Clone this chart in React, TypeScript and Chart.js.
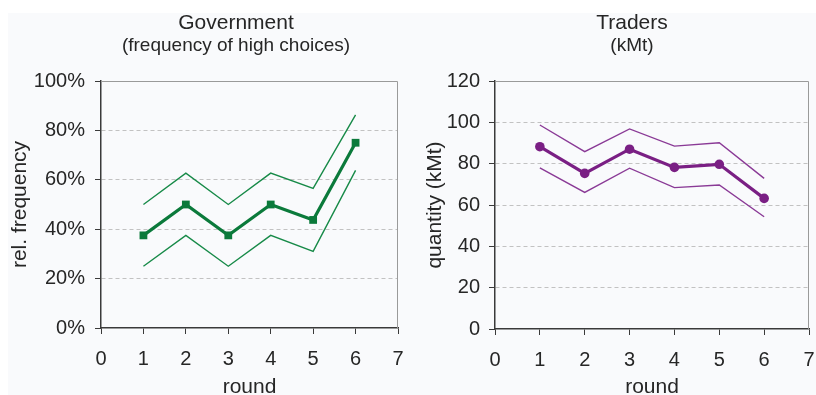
import React, { useEffect, useRef } from 'react';
import { Chart, registerables } from 'chart.js';

Chart.register(...registerables);

// ---------- data ----------
const rounds = [1, 2, 3, 4, 5, 6];

// Government: frequency of high choices (%)
const govMean = [37.5, 50, 37.5, 50, 43.75, 75];
const govUpper = [50, 62.7, 50, 62.7, 56.5, 86.3];
const govLower = [25, 37.5, 25, 37.5, 31, 63.8];

// Traders: quantity (kMt)
const trMean = [88.2, 75.3, 87, 78.2, 79.7, 63.2];
const trUpper = [98.7, 85.8, 96.8, 88.5, 90.1, 72.9];
const trLower = [78, 66.1, 77.8, 68.4, 69.7, 54.3];

const govTitle = ['Government', '(frequency of high choices)'];
const trTitle = ['Traders', '(kMt)'];

const FONT = '"Liberation Sans", Arial, Helvetica, sans-serif';
const TEXT = '#262626';
const AXIS = '#3a3a3a';

const pts = (ys: number[]) => rounds.map((r, i) => ({ x: r, y: ys[i] }));

const headingPlugin = {
  id: 'headings',
  afterDraw(chart: any, _args: any, opts: any) {
    const ctx = chart.ctx;
    const { top, right, left, bottom } = chart.chartArea;
    ctx.save();
    // light frame on top and right
    ctx.strokeStyle = '#9a9a9a';
    ctx.lineWidth = 1;
    ctx.beginPath();
    ctx.moveTo(left, top + 0.5);
    ctx.lineTo(right - 0.5, top + 0.5);
    ctx.lineTo(right - 0.5, bottom);
    ctx.stroke();
    // headings
    ctx.fillStyle = TEXT;
    ctx.textAlign = 'center';
    ctx.textBaseline = 'alphabetic';
    (opts.lines || []).forEach((l: any) => {
      ctx.font = `${l.size}px ${FONT}`;
      ctx.fillText(l.text, opts.x, l.y);
    });
    ctx.restore();
  },
};

interface PanelCfg {
  mean: number[];
  upper: number[];
  lower: number[];
  color: string;
  boundColor: string;
  pointStyle: string;
  pointRadius: number;
  yMax: number;
  yStep: number;
  fmt: (v: number) => string;
  yTitle: string;
  yWidth: number;
  yTitlePad: number;
  yTickPad: number;
  xHeight: number;
  padRight: number;
  headX: number;
  heading: string[];
}

function makeConfig(p: PanelCfg): any {
  const bound = (data: number[]) => ({
    data: pts(data),
    borderColor: p.boundColor,
    borderWidth: 1.4,
    pointRadius: 0,
    fill: false,
    tension: 0,
  });
  return {
    type: 'line',
    data: {
      datasets: [
        bound(p.upper),
        bound(p.lower),
        {
          data: pts(p.mean),
          borderColor: p.color,
          backgroundColor: p.color,
          borderWidth: 3.2,
          pointStyle: p.pointStyle,
          pointRadius: p.pointRadius,
          pointBorderWidth: 0,
          fill: false,
          tension: 0,
        },
      ],
    },
    plugins: [headingPlugin],
    options: {
      animation: false,
      responsive: false,
      maintainAspectRatio: false,
      layout: { padding: { top: 81, right: p.padRight, left: 0, bottom: 0 } },
      plugins: {
        legend: { display: false },
        tooltip: { enabled: false },
        headings: {
          x: p.headX,
          lines: [
            { text: p.heading[0], size: 21, y: 29 },
            { text: p.heading[1], size: 19, y: 51 },
          ],
        },
      },
      scales: {
        x: {
          type: 'linear',
          min: 0,
          max: 7,
          ticks: { stepSize: 1, color: TEXT, font: { size: 20, family: FONT }, padding: 13 },
          grid: { drawOnChartArea: false, color: AXIS, tickColor: AXIS, tickLength: 6 },
          border: { color: AXIS, width: 1.5 },
          title: {
            display: true,
            text: 'round',
            color: TEXT,
            font: { size: 21, family: FONT, lineHeight: 0.7 },
            padding: { top: 0, bottom: 0 },
          },
          afterFit: (s: any) => {
            s.height = p.xHeight;
            s.paddingLeft = 0;
            s.paddingRight = 0;
          },
        },
        y: {
          min: 0,
          max: p.yMax,
          ticks: {
            stepSize: p.yStep,
            color: TEXT,
            font: { size: 20, family: FONT },
            padding: p.yTickPad,
            callback: (v: any) => p.fmt(Number(v)),
          },
          grid: {
            color: (c: any) =>
              c.tick && (c.tick.value === 0 || c.tick.value === p.yMax) ? 'rgba(0,0,0,0)' : '#c2c2c2',
            tickColor: AXIS,
            tickLength: 6,
            lineWidth: 1,
          },
          border: { color: AXIS, width: 1.5, dash: [4, 3] },
          title: {
            display: true,
            text: p.yTitle,
            color: TEXT,
            font: { size: 21, family: FONT, lineHeight: 1 },
            padding: { top: p.yTitlePad, bottom: 0 },
          },
          afterFit: (s: any) => {
            s.width = p.yWidth;
            s.paddingTop = 0;
            s.paddingBottom = 0;
          },
        },
      },
    },
  };
}

export default function App() {
  const leftRef = useRef<HTMLCanvasElement | null>(null);
  const rightRef = useRef<HTMLCanvasElement | null>(null);

  useEffect(() => {
    const charts: Chart[] = [];
    if (leftRef.current) {
      charts.push(
        new Chart(
          leftRef.current,
          makeConfig({
            mean: govMean,
            upper: govUpper,
            lower: govLower,
            color: '#0b7a3b',
            boundColor: '#178a48',
            pointStyle: 'rect',
            pointRadius: 5.5,
            yMax: 100,
            yStep: 20,
            fmt: (v) => `${v}%`,
            yTitle: 'rel. frequency',
            yWidth: 101,
            yTitlePad: 9.5,
            yTickPad: 10,
            xHeight: 67,
            padRight: 10,
            headX: 236,
            heading: govTitle,
          })
        )
      );
    }
    if (rightRef.current) {
      charts.push(
        new Chart(
          rightRef.current,
          makeConfig({
            mean: trMean,
            upper: trUpper,
            lower: trLower,
            color: '#7a1f84',
            boundColor: '#8a3a96',
            pointStyle: 'circle',
            pointRadius: 4.8,
            yMax: 120,
            yStep: 20,
            fmt: (v) => `${v}`,
            yTitle: 'quantity (kMt)',
            yWidth: 87,
            yTitlePad: 16.8,
            yTickPad: 9,
            xHeight: 66,
            padRight: 7,
            headX: 224,
            heading: trTitle,
          })
        )
      );
    }
    return () => charts.forEach((c) => c.destroy());
  }, []);

  return (
    <div
      style={{
        position: 'fixed',
        left: 0,
        top: 0,
        width: 816,
        height: 395,
        background: '#ffffff',
        overflow: 'hidden',
      }}
    >
      <div
        style={{ position: 'absolute', left: 8, top: 13, right: 0, bottom: 0, background: '#f9fafc' }}
      />
      <canvas
        ref={leftRef}
        width={408}
        height={395}
        style={{ position: 'absolute', left: 0, top: 0, width: 408, height: 395 }}
      />
      <canvas
        ref={rightRef}
        width={408}
        height={395}
        style={{ position: 'absolute', left: 408, top: 0, width: 408, height: 395 }}
      />
    </div>
  );
}
